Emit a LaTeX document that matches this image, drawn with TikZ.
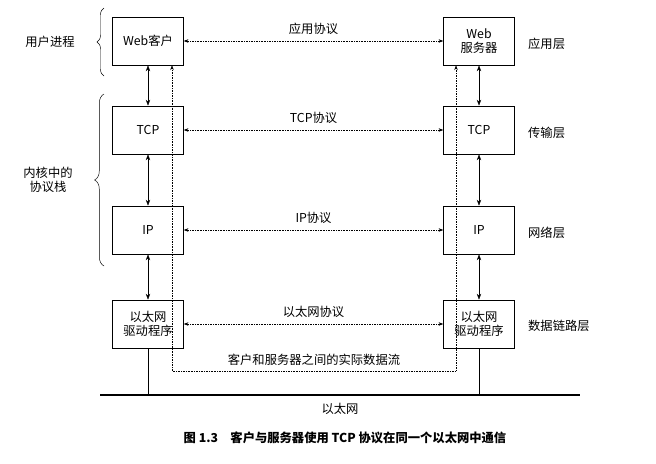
\documentclass[tikz,border=0pt]{standalone}
\usepackage{fontspec}
\newfontfamily\cjk{Noto Sans CJK SC}
\usetikzlibrary{decorations.pathreplacing, arrows.meta}

\tikzset{
	layerbox/.style={draw, minimum width=2.13cm, minimum height=1.45cm, align=center, font=\cjk\fontsize{10.5}{12.5}\selectfont, inner sep=1pt},
	lbl/.style={font=\cjk\fontsize{10.5}{12.5}\selectfont, align=center},
	peer/.style={densely dotted, {Stealth[length=4pt]}-{Stealth[length=4pt]}},
	updown/.style={{Stealth[length=5pt]}-{Stealth[length=5pt]}}
}

\begin{document}
\begin{tikzpicture}[x=0.03cm, y=-0.03cm]

	\useasboundingbox (0,0) rectangle (656,463);

	% left column (client)
	\node[layerbox] (webc) at (148,41) {Web客户};
	\node[layerbox] (tcpc) at (148,130) {TCP};
	\node[layerbox] (ipc) at (148,230) {IP};
	\node[layerbox] (ethc) at (148,324) {以太网\\驱动程序};

	% right column (server)
	\node[layerbox] (webs) at (479,41) {Web\\服务器};
	\node[layerbox] (tcps) at (479,130) {TCP};
	\node[layerbox] (ips) at (479,230) {IP};
	\node[layerbox] (eths) at (479,324) {以太网\\驱动程序};

	% peer protocols
	\draw[peer] (webc) -- node[lbl, above=2pt] {应用协议} (webs);
	\draw[peer] (tcpc) -- node[lbl, above=2pt] {TCP协议} (tcps);
	\draw[peer] (ipc) -- node[lbl, above=2pt] {IP协议} (ips);
	\draw[peer] (ethc) -- node[lbl, above=2pt] {以太网协议} (eths);

	% stack arrows
	\draw[updown] (webc) -- (tcpc);
	\draw[updown] (tcpc) -- (ipc);
	\draw[updown] (ipc) -- (ethc);
	\draw[updown] (webs) -- (tcps);
	\draw[updown] (tcps) -- (ips);
	\draw[updown] (ips) -- (eths);

	% actual data flow
	\coordinate (flowl) at (172,371);
	\coordinate (flowr) at (456,371);
	\draw[densely dotted, {Stealth[length=4pt]}-{Stealth[length=4pt]}] (webc.south -| flowl) -- (flowl) -- node[lbl, above=1pt] {客户和服务器之间的实际数据流} (flowr) -- (webs.south -| flowr);

	% ethernet
	\coordinate (wirel) at (100,395);
	\coordinate (wirer) at (580,395);
	\draw[line width=1pt] (wirel) -- node[lbl, below=3pt] {以太网} (wirer);
	\draw (ethc) -- (ethc |- wirel);
	\draw (eths) -- (eths |- wirel);

	% layer names
	\node[lbl, anchor=west] (appl) at (524,44) {应用层};
	\node[lbl, anchor=west] (tranl) at (524,133) {传输层};
	\node[lbl, anchor=west] (netl) at (524,233) {网络层};
	\node[lbl, anchor=west] (linkl) at (524,326) {数据链路层};

	% braces
	\draw[decorate, decoration={brace, amplitude=6pt}] (104,76) -- (104,8);
	\draw[decorate, decoration={brace, amplitude=8pt}] (104,266) -- (104,94);
	\node[lbl] (user) at (50,42) {用户进程};
	\node[lbl] (kern) at (48,180) {内核中的\\协议栈};

	% caption
	\node[font=\cjk\bfseries\fontsize{10.5}{12}\selectfont] (cap) at (345,438) {图 1.3\quad 客户与服务器使用 TCP 协议在同一个以太网中通信};

\end{tikzpicture}
\end{document}
